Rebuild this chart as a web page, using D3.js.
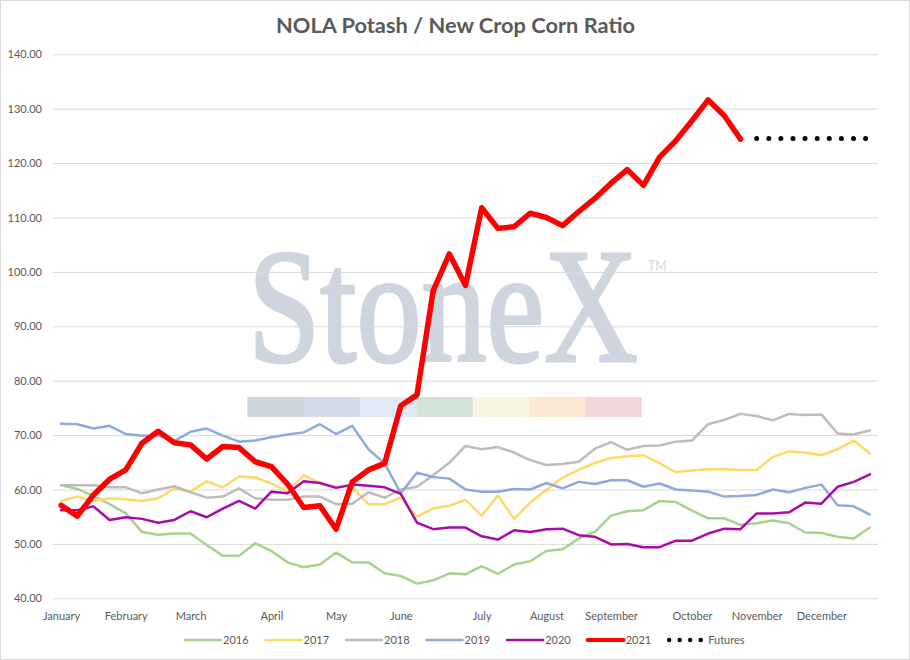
<!DOCTYPE html>
<html>
<head>
<meta charset="utf-8">
<script src="https://cdn.jsdelivr.net/npm/d3@7"></script>
<style>
  html, body { margin: 0; padding: 0; background: #fff; }
  svg { display: block; }
  text { font-family: Lato, "Open Sans", sans-serif; }
</style>
</head>
<body>
<svg id="chart" width="910" height="660"></svg>
<script>
// ---------------- data ----------------
const title = "NOLA Potash / New Crop Corn Ratio";
const monthLabels = ["January","February","March","April","May","June","July","August","September","October","November","December"];
const monthIndex = [0,4,8,13,17,21,26,30,34,39,43,47];
const yTicks = [40,50,60,70,80,90,100,110,120,130,140];
const weeks = 51;

const s2016 = [60.8,60.1,58.8,57.3,55.6,52.2,51.7,51.9,51.9,49.8,47.8,47.8,50.1,48.7,46.6,45.7,46.2,
               48.4,46.6,46.6,44.6,44.1,42.7,43.3,44.6,44.4,45.9,44.5,46.2,46.8,48.7,49.0,51.0,52.2,
               55.2,56.0,56.2,57.9,57.7,56.1,54.7,54.7,53.5,53.8,54.3,53.8,52.1,52.0,51.3,51.0,53.0];
const s2017 = [57.9,58.7,57.9,58.4,58.2,57.9,58.4,60.2,59.6,61.5,60.4,62.4,62.2,61.1,59.7,62.6,61.2,
               60.5,60.5,57.3,57.3,58.5,55.0,56.5,57.0,58.1,55.2,58.9,54.6,57.6,59.9,62.2,63.6,64.9,
               65.8,66.1,66.3,64.8,63.2,63.5,63.7,63.7,63.6,63.6,66.0,67.0,66.8,66.3,67.4,69.0,66.6];
const s2018 = [60.8,60.8,60.8,60.4,60.4,59.3,60.0,60.6,59.5,58.5,58.7,60.2,58.4,58.1,58.1,58.7,58.7,
               57.3,57.4,59.5,58.5,60.0,60.5,62.6,64.9,68.0,67.4,67.8,66.8,65.4,64.5,64.7,65.1,67.5,
               68.7,67.3,68.0,68.1,68.8,69.0,72.0,72.8,73.9,73.5,72.7,73.9,73.7,73.8,70.3,70.1,70.9];
const s2019 = [72.1,72.0,71.2,71.7,70.2,69.9,69.9,68.9,70.6,71.2,69.9,68.8,69.0,69.6,70.1,70.5,72.0,
               70.2,71.7,67.4,64.8,59.3,63.1,62.3,62.0,60.0,59.6,59.6,60.1,60.0,61.2,60.2,61.4,61.0,
               61.7,61.7,60.5,61.1,60.0,59.8,59.6,58.7,58.8,59.0,60.0,59.5,60.3,60.9,57.1,56.9,55.4];
const s2020 = [56.2,56.2,56.9,54.4,54.9,54.6,53.9,54.4,56.0,54.9,56.5,57.9,56.5,59.6,59.3,61.5,61.2,
               60.3,60.9,60.7,60.4,59.2,53.9,52.7,53.0,53.0,51.4,50.8,52.5,52.2,52.7,52.8,51.6,51.3,
               49.9,50.0,49.4,49.4,50.6,50.6,51.9,52.8,52.7,55.6,55.6,55.8,57.6,57.4,60.5,61.4,62.8];
const s2021 = [57.1,55.1,59.0,61.9,63.6,68.5,70.7,68.6,68.2,65.6,
               67.9,67.7,65.1,64.2,61.0,56.7,57.0,52.7,61.4,63.6,
               64.8,75.4,77.4,96.5,103.3,97.5,111.8,108.0,108.3,110.8,
               110.0,108.5,111.1,113.5,116.3,118.8,115.9,121.1,124.1,127.8,
               131.6,128.7,124.4];
const futuresStart = 43;
const futures = [124.5,124.5,124.5,124.5,124.5,124.5,124.5,124.5];

const seriesNames = ["2016","2017","2018","2019","2020","2021","Futures"];

// ---------------- styling ----------------
const styles = {
  "2016":    {color:"#a9d18e", width:2.5},
  "2017":    {color:"#ffd966", width:2.5},
  "2018":    {color:"#bcbcbc", width:2.5},
  "2019":    {color:"#8eaadb", width:2.5},
  "2020":    {color:"#a90aa9", width:2.5},
  "2021":    {color:"#ff0000", width:5.5},
  "Futures": {color:"#000000", width:5, dash:"0,12.1"}
};

const seriesData = {
  "2016": s2016.map((v,i)=>({i, v})),
  "2017": s2017.map((v,i)=>({i, v})),
  "2018": s2018.map((v,i)=>({i, v})),
  "2019": s2019.map((v,i)=>({i, v})),
  "2020": s2020.map((v,i)=>({i, v})),
  "2021": s2021.map((v,i)=>({i, v})),
  "Futures": futures.map((v,k)=>({i: futuresStart + k, v}))
};

// ---------------- layout ----------------
const svg = d3.select("#chart");
const W = 910, H = 660;
const plot = {left: 53, right: 878, top: 54.3, bottom: 598.3};

svg.append("rect").attr("x",0.5).attr("y",0.5).attr("width",W-1).attr("height",H-1)
  .attr("fill","#fff").attr("stroke","#d9d9d9").attr("stroke-width",1);

const x = d3.scaleLinear().domain([-0.5, weeks - 0.5]).range([plot.left, plot.right]);
const y = d3.scaleLinear().domain([40, 140]).range([plot.bottom, plot.top]);

// title
const t = svg.append("text").text(title)
  .attr("x", 455.5).attr("y", 33).attr("text-anchor","middle")
  .attr("font-weight","bold").attr("fill","#595959").attr("font-size", 20);
const tw = t.node().getComputedTextLength();
t.attr("font-size", 20 * 359 / tw);

// watermark
const wm = svg.append("g");
const wmText = wm.append("text").text("StoneX")
  .attr("x", 0).attr("y", 0)
  .style("font-family", "'Liberation Serif', 'DejaVu Serif', serif")
  .attr("font-size", 164)
  .attr("fill", "#ced5de")
  .attr("stroke", "#ced5de").attr("stroke-width", 3.2).attr("stroke-linejoin","round");
const wmW = wmText.node().getComputedTextLength();
wmText.attr("transform", `translate(248,361) scale(${390 / wmW},1)`);
wm.append("text").text("TM")
  .attr("x", 0).attr("y", 0)
  .attr("font-size", 14.5)
  .attr("fill", "#d3d9e1")
  .attr("transform", "translate(648,271) scale(0.85,1)");
const barColors = ["#cdd4dd","#d3dce8","#dfeaf4","#d3e3da","#f8f6e0","#fae8d3","#f3d6d9"];
const barX = d3.scaleBand().domain(d3.range(barColors.length)).range([247.3, 641.7]);
wm.selectAll("rect.band").data(barColors).join("rect")
  .attr("class","band")
  .attr("x",(d,i)=>barX(i)).attr("width",barX.bandwidth()+0.3)
  .attr("y",397).attr("height",20)
  .attr("fill",d=>d);

// gridlines + y axis
const yAxis = d3.axisLeft(y).tickValues(yTicks).tickFormat(d3.format(".2f"))
  .tickSize(-(plot.right - plot.left)).tickPadding(11);
const gy = svg.append("g").attr("transform", `translate(${plot.left},0)`).call(yAxis);
gy.select(".domain").remove();
gy.selectAll(".tick line").attr("stroke","#d9d9d9").attr("stroke-width",1);
gy.selectAll(".tick text").attr("fill","#595959").attr("font-size",11)
  .style("font-family","Lato, 'Open Sans', sans-serif");

// x axis (month labels)
const xAxis = d3.axisBottom(x).tickValues(monthIndex)
  .tickFormat((d,k)=>monthLabels[k]).tickSize(0).tickPadding(14);
const gx = svg.append("g").attr("transform", `translate(0,${plot.bottom})`).call(xAxis);
gx.select(".domain").remove();
gx.selectAll(".tick text").attr("fill","#595959").attr("font-size",11)
  .style("font-family","Lato, 'Open Sans', sans-serif");

// lines
const line = d3.line().x(d=>x(d.i)).y(d=>y(d.v)).curve(d3.curveLinear);
seriesNames.forEach(name => {
  const st = styles[name];
  const p = svg.append("path").datum(seriesData[name])
    .attr("d", line).attr("fill","none")
    .attr("stroke", st.color).attr("stroke-width", st.width)
    .attr("stroke-linejoin","round").attr("stroke-linecap","round");
  if (st.dash) p.attr("stroke-dasharray", st.dash);
});

// legend
const lg = svg.append("g");
let lx = 185;
const ly = 640;
seriesNames.forEach(name => {
  const st = styles[name];
  const isF = name === "Futures";
  const len = isF ? 32 : 36;
  const l = lg.append("line").attr("x1", lx).attr("x2", lx + len)
    .attr("y1", ly).attr("y2", ly)
    .attr("stroke", st.color)
    .attr("stroke-width", isF ? 4.5 : (name === "2021" ? 4 : 2.5))
    .attr("stroke-linecap","round");
  if (isF) l.attr("stroke-dasharray","0,10.5").attr("x1", lx + 1).attr("x2", lx + 1 + 32.5);
  const tx = lg.append("text").text(name)
    .attr("x", lx + len + (isF ? 8 : 2)).attr("y", ly + 4)
    .attr("fill","#595959").attr("font-size",11);
  lx += len + (isF ? 8 : 2) + tx.node().getComputedTextLength() + 17;
});
</script>
</body>
</html>
